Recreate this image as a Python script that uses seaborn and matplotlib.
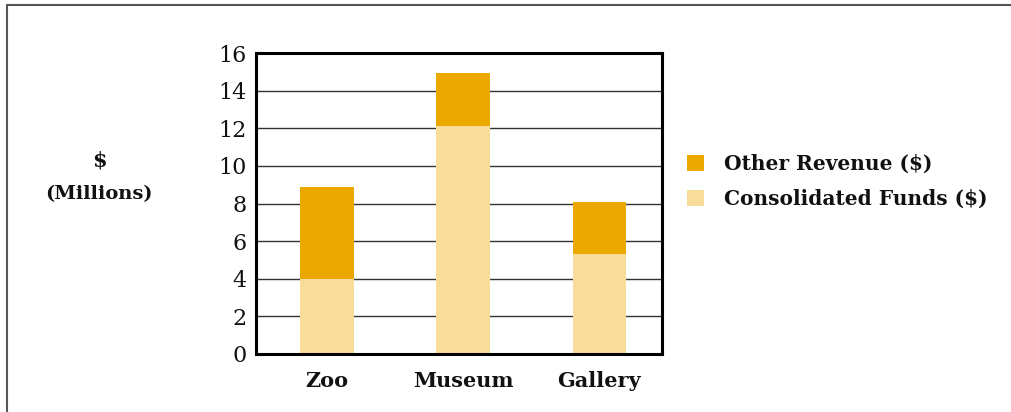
import matplotlib
matplotlib.use("Agg")
import matplotlib.pyplot as plt
import seaborn as sns
import pandas as pd
from matplotlib.patches import Rectangle

categories = ["Zoo", "Museum", "Gallery"]
consolidated = [4.0, 12.1, 5.3]
other = [4.9, 2.85, 2.8]
series_names = ["Other Revenue ($)", "Consolidated Funds ($)"]
yticks = [0, 2, 4, 6, 8, 10, 12, 14, 16]

dark = "#EBA900"
light = "#F7DC9A"

sns.set_theme(style="white")
plt.rcParams["font.family"] = ["DejaVu Serif"]

df = pd.DataFrame({
    "cat": categories,
    "cons": consolidated,
    "total": [c + o for c, o in zip(consolidated, other)],
})

fig = plt.figure(figsize=(10.11, 4.12), dpi=100)
ax = fig.add_axes([256 / 1011, 1 - 354 / 412, (662 - 256) / 1011, (354 - 53) / 412])

sns.barplot(data=df, x="cat", y="total", color=dark, saturation=1, width=0.39,
            ax=ax, label=series_names[0], zorder=3)
sns.barplot(data=df, x="cat", y="cons", color=light, saturation=1, width=0.39,
            ax=ax, label=series_names[1], zorder=3)
for bar in ax.patches:
    bar.set_edgecolor("none")
    bar.set_linewidth(0)

ax.set_xlim(-0.522, 2.463)
ax.set_ylim(0, 16)
ax.set_yticks(yticks)
ax.set_yticklabels([str(t) for t in yticks], fontsize=16)
ax.tick_params(axis="y", length=0, pad=7, labelcolor="#111111")
ax.tick_params(axis="x", length=0, pad=12)
for lab in ax.get_xticklabels():
    lab.set_fontsize(15)
    lab.set_fontweight("bold")
    lab.set_color("#111111")
ax.set_xlabel("")
ax.set_ylabel("")

for t in yticks[1:-1]:
    ax.axhline(t, color="#333333", linewidth=1.0, zorder=1)

for s in ax.spines.values():
    s.set_visible(True)
    s.set_color("black")
    s.set_linewidth(2.2)
    s.set_zorder(5)

leg = ax.legend(loc="upper left", bbox_to_anchor=(687 / 1011, 1 - 154 / 412),
                bbox_transform=fig.transFigure, frameon=False,
                borderpad=0, borderaxespad=0,
                handlelength=0.85, handleheight=0.85,
                handletextpad=0.97, labelspacing=0.74,
                prop={"weight": "bold", "size": 14.5})
for t in leg.get_texts():
    t.set_color("#111111")

fig.text(99 / 1011, 1 - 161 / 412, "$", ha="center", va="center",
         fontsize=15, fontweight="bold", color="#111111")
fig.text(99 / 1011, 1 - 194 / 412, "(Millions)", ha="center", va="center",
         fontsize=14, fontweight="bold", color="#111111")

fig.patches.append(Rectangle((7 / 1011, -0.1), 1.2, 1 - 5 / 412 + 0.1,
                             transform=fig.transFigure, fill=False,
                             edgecolor="#555555", linewidth=1.5))

fig.savefig("out.png", dpi=100)
